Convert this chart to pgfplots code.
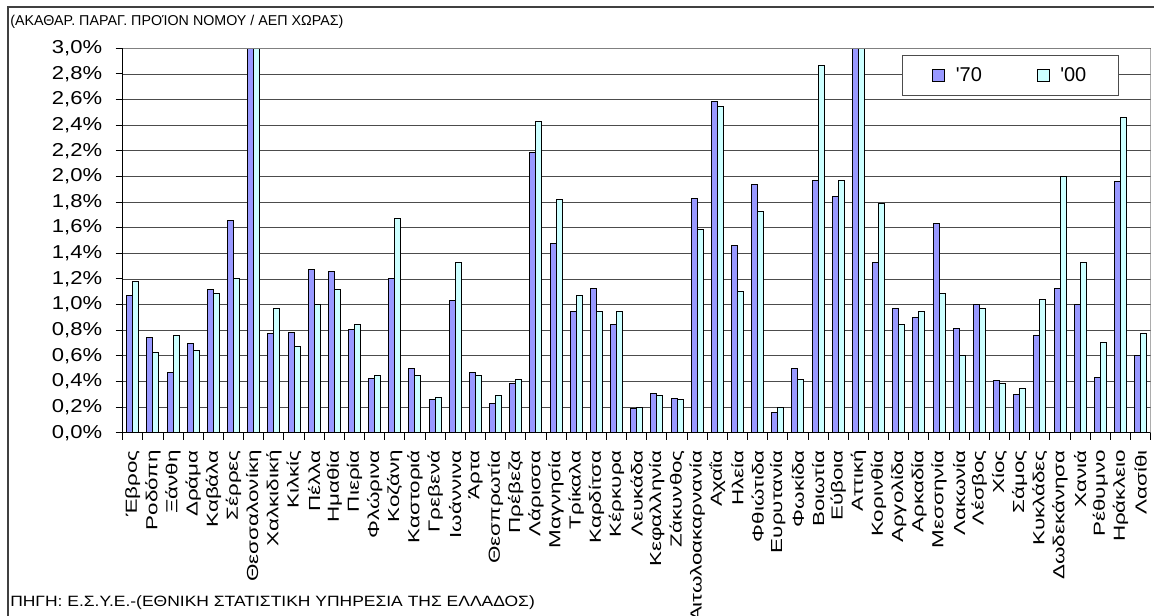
\documentclass[border=0pt]{standalone}
\usepackage{fontspec}
\setmainfont{Liberation Sans}
\newfontfamily\tickfont{Liberation Sans}[FakeStretch=1.18]
\newfontfamily\labfont{Liberation Sans}[FakeStretch=1.4]
\newfontfamily\srcfont{Liberation Sans}[FakeStretch=1.17]
\usepackage{pgfplots}
\pgfplotsset{compat=1.18}
\usepackage{pgfplotstable}
\definecolor{c70}{RGB}{153,153,255}
\definecolor{c00}{RGB}{204,255,255}
\definecolor{framegray}{RGB}{64,64,64}

% idx  '70  '00   (share of national GDP, %)
\pgfplotstableread{
x y70 y00
0 1.070 1.180
1 0.746 0.629
2 0.473 0.758
3 0.699 0.644
4 1.114 1.083
5 1.654 1.200
6 10.50 9.800
7 0.771 0.971
8 0.784 0.673
9 1.270 0.997
10 1.257 1.114
11 0.803 0.842
12 0.426 0.447
13 1.200 1.672
14 0.501 0.444
15 0.257 0.273
16 1.029 1.330
17 0.473 0.444
18 0.228 0.288
19 0.387 0.413
20 2.184 2.426
21 1.473 1.816
22 0.943 1.070
23 1.127 0.943
24 0.842 0.943
25 0.187 0.200
26 0.304 0.288
27 0.270 0.257
28 1.829 1.587
29 2.582 2.543
30 1.457 1.101
31 1.940 1.730
32 0.158 0.200
33 0.501 0.415
34 1.969 2.868
35 1.842 1.969
36 33.00 36.00
37 1.330 1.787
38 0.969 0.844
39 0.899 0.943
40 1.629 1.083
41 0.813 0.600
42 1.000 0.969
43 0.405 0.384
44 0.301 0.345
45 0.758 1.042
46 1.127 1.997
47 1.000 1.330
48 0.431 0.704
49 1.958 2.457
50 0.600 0.774
}\data

\begin{document}
\begin{tikzpicture}
\useasboundingbox (0,0) rectangle (865.5pt,462pt);
% outer chart frame
\draw[framegray, line width=1.4pt] (6pt,-20pt) -- (6pt,456.5pt) -- (880pt,456.5pt);
\node[anchor=base west, inner sep=0pt, font=\fontsize{10.7}{12}\selectfont] at (7.5pt,442.5pt)
  {(ΑΚΑΘΑΡ. ΠΑΡΑΓ. ΠΡΟΊΟΝ ΝΟΜΟΥ / ΑΕΠ ΧΩΡΑΣ)};
\node[anchor=base west, inner sep=0pt, font=\srcfont\fontsize{11.2}{12}\selectfont] at (7.5pt,7pt)
  {ΠΗΓΗ: Ε.Σ.Υ.Ε.-(ΕΘΝΙΚΗ ΣΤΑΤΙΣΤΙΚΗ ΥΠΗΡΕΣΙΑ ΤΗΣ ΕΛΛΑΔΟΣ)};
\begin{axis}[
  at={(92.03pt,137.48pt)}, anchor=south west,
  width=771pt, height=288.3pt, scale only axis,
  xmin=-0.5, xmax=50.5, ymin=0, ymax=3.0,
  ybar=0pt, bar width=4.5pt,
  axis x line*=bottom, axis y line*=left,
  axis line style={black, line width=0.75pt},
  ymajorgrids, grid style={black!70, line width=0.6pt},
  tick align=outside, major tick length=5.25pt,
  tick style={black, line width=0.75pt},
  ytick={0,0.2,0.4,0.6,0.8,1.0,1.2,1.4,1.6,1.8,2.0,2.2,2.4,2.6,2.8,3.0},
  yticklabels={{0,0\%},{0,2\%},{0,4\%},{0,6\%},{0,8\%},{1,0\%},{1,2\%},{1,4\%},{1,6\%},{1,8\%},{2,0\%},{2,2\%},{2,4\%},{2,6\%},{2,8\%},{3,0\%}},
  yticklabel style={font=\tickfont\fontsize{14}{14}\selectfont, inner sep=0pt, anchor=east},
  yticklabel shift=10pt,
  xtick={-0.5,0.5,...,50.5}, xticklabel={\mbox{}},
  extra x ticks={0,1,...,50},
  extra x tick labels={Έβρος,Ροδόπη,Ξάνθη,Δράμα,Καβάλα,Σέρρες,Θεσσαλονίκη,Χαλκιδική,Κιλκίς,Πέλλα,Ημαθία,Πιερία,Φλώρινα,Κοζάνη,Καστοριά,Γρεβενά,Ιωάννινα,Άρτα,Θεσπρωτία,Πρέβεζα,Λάρισσα,Μαγνησία,Τρίκαλα,Καρδίτσα,Κέρκυρα,Λευκάδα,Κεφαλληνία,Ζάκυνθος,Αιτωλοακαρνανία,Αχαΐα,Ηλεία,Φθιώτιδα,Ευρυτανία,Φωκίδα,Βοιωτία,Εύβοια,Αττική,Κορινθία,Αργολίδα,Αρκαδία,Μεσσηνία,Λακωνία,Λέσβος,Χίος,Σάμος,Κυκλάδες,Δωδεκάνησα,Χανιά,Ρέθυμνο,Ηράκλειο,Λασίθι},
  extra x tick style={major tick length=0pt,
     tick label style={rotate=90, anchor=east, inner sep=0pt,
       font=\labfont\fontsize{12}{12}\selectfont}},
  xticklabel shift=13pt,
  legend style={at={(0.7584,0.9826)}, anchor=north west,
    draw=black!70, line width=0.75pt, fill=white,
    font=\fontsize{15}{15}\selectfont,
    inner xsep=22pt, inner ysep=7pt,
    /tikz/every odd column/.append style={column sep=6pt},
    /tikz/every even column/.append style={column sep=39pt}},
  legend columns=2,
  legend image code/.code={\draw[#1, draw=black, line width=0.75pt] (0pt,-4.5pt) rectangle (9pt,4.5pt);},
]
\addplot[fill=c70, draw=black, line width=0.75pt] table[x=x, y=y70] {\data};
\addlegendentry{\textquotesingle70}
\addplot[fill=c00, draw=black, line width=0.75pt] table[x=x, y=y00] {\data};
\addlegendentry{\textquotesingle00}
\draw[black!50, line width=0.75pt] (rel axis cs:0,1) -- (rel axis cs:1,1) -- (rel axis cs:1,0);
\end{axis}
\end{tikzpicture}
\end{document}
